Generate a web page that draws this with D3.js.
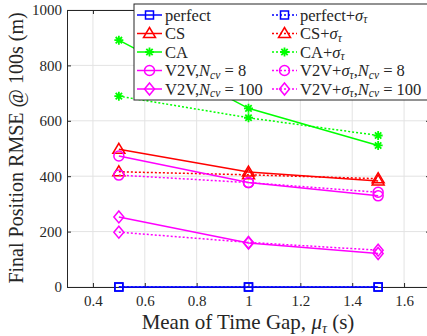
<!DOCTYPE html>
<html><head><meta charset="utf-8">
<script src="https://cdn.jsdelivr.net/npm/d3@7"></script>
<style>body{margin:0;background:#fff}svg{display:block}text{font-family:"Liberation Serif","DejaVu Serif",serif;fill:#262626}</style>
</head><body><div id="c"></div>
<script>
const xVals = [0.5, 1.0, 1.5];
const xTicks = [0.4, 0.6, 0.8, 1.0, 1.2, 1.4, 1.6];
const yTicks = [0, 200, 400, 600, 800, 1000];
const perfect = [0, 0, 0];
const perfectSig = [0, 0, 0];
const cs = [497, 415, 383];
const csSig = [416, 405, 391];
const ca = [891, 645, 511];
const caSig = [689, 611, 547];
const v2v8 = [473, 377, 329];
const v2v8Sig = [404, 377, 342];
const v2v100 = [253, 159, 121];
const v2v100Sig = [198, 161, 133];

const series = [
  {v: perfect, c: "#0000ff", m: "square", dash: false, name: [["perfect"]]},
  {v: perfectSig, c: "#0000ff", m: "square", dash: true, name: [["perfect+"],["σ","i"],["τ","sub"]]},
  {v: cs, c: "#ff0000", m: "triangle", dash: false, name: [["CS"]]},
  {v: csSig, c: "#ff0000", m: "triangle", dash: true, name: [["CS+"],["σ","i"],["τ","sub"]]},
  {v: ca, c: "#00ff00", m: "star", dash: false, name: [["CA"]]},
  {v: caSig, c: "#00ff00", m: "star", dash: true, name: [["CA+"],["σ","i"],["τ","sub"]]},
  {v: v2v8, c: "#ff00ff", m: "circle", dash: false, name: [["V2V,"],["N","i"],["cv","sub"],[" = 8"]]},
  {v: v2v8Sig, c: "#ff00ff", m: "circle", dash: true, name: [["V2V+"],["σ","i"],["τ","sub"],[","],["N","i"],["cv","sub"],[" = 8"]]},
  {v: v2v100, c: "#ff00ff", m: "diamond", dash: false, name: [["V2V,"],["N","i"],["cv","sub"],[" = 100"]]},
  {v: v2v100Sig, c: "#ff00ff", m: "diamond", dash: true, name: [["V2V+"],["σ","i"],["τ","sub"],[","],["N","i"],["cv","sub"],[" = 100"]]},
];

const W = 427, H = 336;
const FONT = '"Liberation Serif","DejaVu Serif",serif';
const svg = d3.select("#c").append("svg").attr("width", W).attr("height", H);
const L = 67, R = 430, T = 10, B = 287;
const x = d3.scaleLinear().domain([0.3, 1.7]).range([L, R]);
const y = d3.scaleLinear().domain([0, 1000]).range([B, T]);

// grid
svg.append("g").selectAll("line").data(xTicks).join("line")
  .attr("x1", d => x(d)).attr("x2", d => x(d)).attr("y1", T).attr("y2", B)
  .attr("stroke", "#e3e3e3").attr("stroke-width", 1);
svg.append("g").selectAll("line").data(yTicks).join("line")
  .attr("y1", d => y(d)).attr("y2", d => y(d)).attr("x1", L).attr("x2", R)
  .attr("stroke", "#e3e3e3").attr("stroke-width", 1);

// axes
const xa = svg.append("g").attr("transform", `translate(0,${B})`)
  .call(d3.axisBottom(x).tickValues(xTicks).tickSizeInner(-4).tickSizeOuter(0).tickPadding(8)
    .tickFormat(d => d === 1 ? "1" : d3.format(".1f")(d)));
const ya = svg.append("g").attr("transform", `translate(${L},0)`)
  .call(d3.axisLeft(y).tickValues(yTicks).tickSizeInner(-4).tickSizeOuter(0).tickPadding(5).tickFormat(d3.format("d")));
const xt = svg.append("g").attr("transform", `translate(0,${T})`)
  .call(d3.axisTop(x).tickValues(xTicks).tickSizeInner(-4).tickSizeOuter(0).tickFormat(""));
const yr = svg.append("g").attr("transform", `translate(${R},0)`)
  .call(d3.axisRight(y).tickValues(yTicks).tickSizeInner(-4).tickSizeOuter(0).tickFormat(""));
[xa, ya, xt, yr].forEach(a => {
  a.select(".domain").attr("stroke", "#262626").attr("stroke-width", 1);
  a.selectAll(".tick line").attr("stroke", "#262626");
  a.selectAll("text").style("font-family", FONT).style("font-size", "15px").attr("fill", "#262626");
});

// markers
function marker(g, type, cx, cy, c) {
  if (type === "square") g.append("rect").attr("x", cx - 4).attr("y", cy - 4).attr("width", 8).attr("height", 8).attr("fill", "none").attr("stroke", c).attr("stroke-width", 1.5);
  else if (type === "triangle") g.append("path").attr("d", `M${cx},${cy-6}L${cx+6},${cy+4}L${cx-6},${cy+4}Z`).attr("fill", "none").attr("stroke", c).attr("stroke-width", 1.5);
  else if (type === "circle") g.append("circle").attr("cx", cx).attr("cy", cy).attr("r", 5).attr("fill", "none").attr("stroke", c).attr("stroke-width", 1.5);
  else if (type === "diamond") g.append("path").attr("d", `M${cx},${cy-6}L${cx+5},${cy}L${cx},${cy+6}L${cx-5},${cy}Z`).attr("fill", "none").attr("stroke", c).attr("stroke-width", 1.5);
  else if (type === "star") {
    let d = "";
    for (let k = 0; k < 4; k++) { const a = k * Math.PI / 4; const dx = 4.5 * Math.cos(a), dy = 4.5 * Math.sin(a); d += `M${cx-dx},${cy-dy}L${cx+dx},${cy+dy}`; }
    g.append("path").attr("d", d).attr("stroke", c).attr("stroke-width", 1.8).attr("fill", "none");
  }
}

const line = d3.line().x((d, i) => x(xVals[i])).y(d => y(d));
const plot = svg.append("g");
series.forEach(s => {
  plot.append("path").datum(s.v).attr("d", line).attr("fill", "none").attr("stroke", s.c)
    .attr("stroke-width", 1.5).attr("stroke-dasharray", s.dash ? "2,2" : null);
  s.v.forEach((v, i) => marker(plot, s.m, x(xVals[i]), y(v), s.c));
});

// legend
const lg = svg.append("g");
lg.append("rect").attr("x", 134).attr("y", 4).attr("width", 300).attr("height", 96).attr("fill", "#fff").attr("stroke", "#262626").attr("stroke-width", 1);
series.forEach((s, i) => {
  const col = i % 2, row = Math.floor(i / 2);
  const lx = col === 0 ? 137 : 272;
  const ly = 15 + row * 18.5;
  lg.append("line").attr("x1", lx).attr("x2", lx + 25).attr("y1", ly).attr("y2", ly).attr("stroke", s.c).attr("stroke-width", 1.5).attr("stroke-dasharray", s.dash ? "2,2" : null);
  marker(lg, s.m, lx + 12.5, ly, s.c);
  const t = lg.append("text").attr("x", lx + 28).attr("y", ly + 5.5).style("font-size", "16.5px").attr("fill", "#000");
  let prevSub = false;
  s.name.forEach(p => {
    const ts = t.append("tspan").text(p[0]);
    if (p[1] === "i") ts.style("font-style", "italic");
    if (p[1] === "sub") {
      ts.attr("dy", prevSub ? 0 : 2.5).style("font-size", "11.5px").style("font-style", "italic");
      prevSub = true;
    } else {
      if (prevSub) ts.attr("dy", -2.5);
      prevSub = false;
    }
  });
});

// axis labels
svg.append("text").attr("x", 248).attr("y", 329).attr("text-anchor", "middle").style("font-size", "21px")
  .call(t => { t.append("tspan").text("Mean of Time Gap, "); t.append("tspan").text("μ").style("font-style", "italic");
    t.append("tspan").text("τ").attr("dy", 3.5).style("font-size", "14px").style("font-style", "italic");
    t.append("tspan").text(" (s)").attr("dy", -3.5); });
svg.append("text").attr("transform", "translate(23,148) rotate(-90)").attr("text-anchor", "middle").style("font-size", "20px")
  .text("Final Position RMSE @ 100s (m)");
</script></body></html>
